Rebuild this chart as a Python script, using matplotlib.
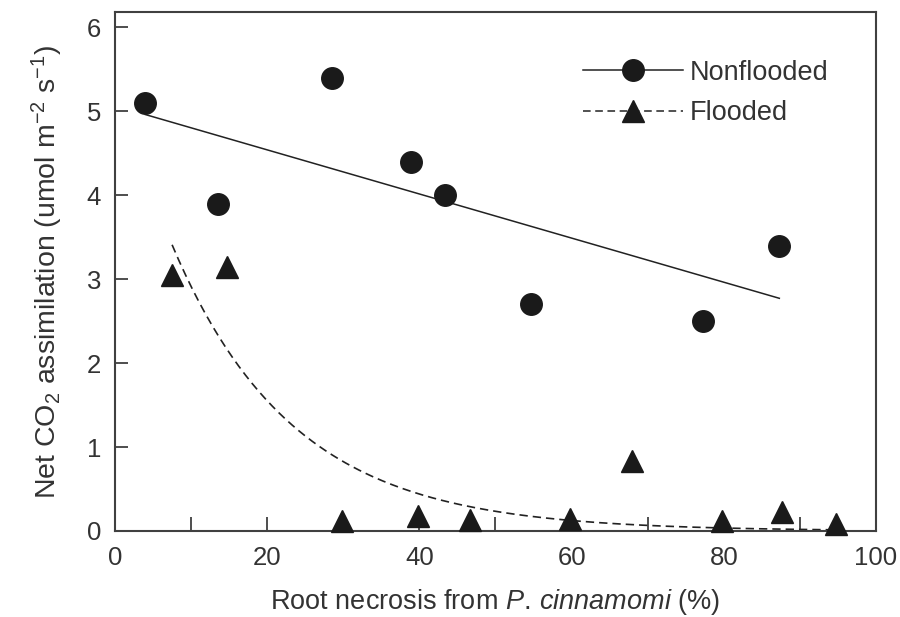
import numpy as np
import matplotlib
matplotlib.use("Agg")
import matplotlib.pyplot as plt
from matplotlib.lines import Line2D
from matplotlib.ticker import MultipleLocator

plt.rcParams['font.family'] = ['Liberation Sans', 'DejaVu Sans']
plt.rcParams['mathtext.fontset'] = 'custom'
plt.rcParams['mathtext.rm'] = 'Liberation Sans'
plt.rcParams['mathtext.it'] = 'Liberation Sans:italic'
plt.rcParams['mathtext.default'] = 'regular'

# Nonflooded data
nf_x = [4.0, 13.5, 28.5, 38.9, 43.4, 54.7, 77.3, 87.3]
nf_y = [5.1, 3.9, 5.4, 4.4, 4.0, 2.7, 2.5, 3.4]
# Flooded data
fl_x = [7.5, 14.7, 29.8, 39.8, 46.6, 59.8, 67.9, 79.8, 87.7, 94.8]
fl_y = [3.05, 3.15, 0.12, 0.18, 0.13, 0.14, 0.83, 0.12, 0.23, 0.08]
# Exponential fit for flooded: y = a * exp(-b x)
fl_a, fl_b = 5.47, 0.063

txt = '#333333'
mk = '#1a1a1a'

fig = plt.figure(figsize=(9, 6.17), dpi=100)
ax = fig.add_axes([0.1278, 0.1394, 0.8455, 0.8406])

ax.plot(nf_x, nf_y, 'o', color=mk, ms=15.5, zorder=3)
ax.plot(fl_x, fl_y, '^', color=mk, ms=16, zorder=3, clip_on=False)

# linear trend for nonflooded
p = np.polyfit(nf_x, nf_y, 1)
xs = np.array([min(nf_x), max(nf_x)])
ax.plot(xs, np.polyval(p, xs), '-', color='#222222', lw=1.1)

# exponential trend for flooded
xe = np.linspace(min(fl_x), max(fl_x), 200)
ax.plot(xe, fl_a * np.exp(-fl_b * xe), color='#222222', lw=1.2, dashes=(5, 3))

ax.set_xlim(0, 100)
ax.set_ylim(0, 6.18)
ax.xaxis.set_major_locator(MultipleLocator(20))
ax.xaxis.set_minor_locator(MultipleLocator(10))
ax.yaxis.set_major_locator(MultipleLocator(1))
ax.tick_params(axis='both', which='both', direction='in', colors='#404040',
               labelcolor=txt, labelsize=18.5, width=1.3)
ax.tick_params(axis='x', which='both', length=10, pad=11)
ax.tick_params(axis='y', which='major', length=9, pad=10)
ax.tick_params(top=False, right=False)
for s in ax.spines.values():
    s.set_color('#404040')
    s.set_linewidth(1.5)

ax.set_xlabel(r'Root necrosis from $\mathit{P.\,cinnamomi}$ (%)', fontsize=19.5,
              color=txt, labelpad=12)
ax.set_ylabel(r'Net CO$_2$ assimilation (umol m$^{-2}$ s$^{-1}$)', fontsize=20.5,
              color=txt, labelpad=16)

handles = [
    Line2D([], [], color='#222222', lw=1.1, marker='o', ms=15.5,
           markerfacecolor=mk, markeredgecolor=mk),
    Line2D([], [], color='#222222', lw=1.1, dashes=(5, 3), marker='^', ms=16,
           markerfacecolor=mk, markeredgecolor=mk),
]
leg = ax.legend(handles, ['Nonflooded', 'Flooded'], loc='upper left',
                bbox_to_anchor=(0.615, 0.909), frameon=False, fontsize=19.5,
                handlelength=3.7, handletextpad=0.25, labelspacing=0.55,
                borderpad=0, borderaxespad=0)
for t in leg.get_texts():
    t.set_color(txt)

fig.savefig('out.png', dpi=100)
